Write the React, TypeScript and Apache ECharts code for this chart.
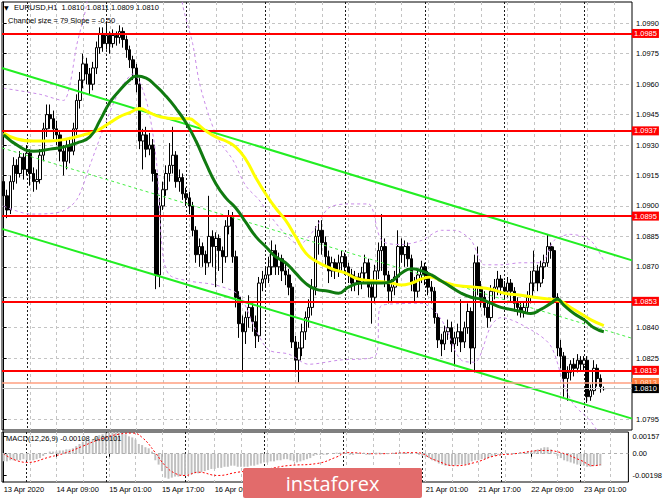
import React, { useEffect, useRef } from 'react';
import * as echarts from 'echarts';

// [open, close, low, high] hourly EURUSD bars, 13 Apr 17:00 -> 23 Apr 06:00
const candles: number[][] = [
  [1.0912,1.0905,1.0900,1.0918],[1.0905,1.0898,1.0894,1.0908],[1.0898,1.0912,1.0896,1.0915],[1.0912,1.0920,1.0908,1.0924],
  [1.0920,1.0916,1.0911,1.0923],[1.0916,1.0924,1.0914,1.0927],[1.0924,1.0918,1.0913,1.0926],[1.0918,1.0926,1.0915,1.0930],
  [1.0926,1.0916,1.0910,1.0928],[1.0916,1.0912,1.0907,1.0919],[1.0912,1.0913,1.0908,1.0918],[1.0913,1.0925,1.0911,1.0928],
  [1.0925,1.0938,1.0922,1.0941],[1.0938,1.0945,1.0934,1.0950],[1.0945,1.0943,1.0938,1.0950],[1.0943,1.0938,1.0933,1.0947],
  [1.0938,1.0935,1.0930,1.0942],[1.0935,1.0927,1.0922,1.0937],[1.0927,1.0922,1.0915,1.0930],[1.0922,1.0930,1.0918,1.0933],
  [1.0930,1.0927,1.0921,1.0934],[1.0927,1.0938,1.0925,1.0941],[1.0938,1.0952,1.0935,1.0955],[1.0952,1.0962,1.0948,1.0966],
  [1.0962,1.0970,1.0958,1.0975],[1.0970,1.0965,1.0960,1.0973],[1.0965,1.0960,1.0955,1.0968],[1.0960,1.0968,1.0957,1.0971],
  [1.0968,1.0978,1.0965,1.0981],[1.0978,1.0985,1.0975,1.0988],[1.0985,1.0980,1.0976,1.0988],[1.0980,1.0984,1.0977,1.0991],
  [1.0984,1.0980,1.0975,1.0986],[1.0980,1.0984,1.0978,1.0987],[1.0984,1.0983,1.0979,1.0986],[1.0983,1.0986,1.0980,1.0989],
  [1.0986,1.0982,1.0978,1.0988],[1.0982,1.0977,1.0973,1.0984],[1.0977,1.0972,1.0968,1.0979],[1.0972,1.0968,1.0962,1.0974],
  [1.0968,1.0960,1.0956,1.0970],[1.0960,1.0932,1.0928,1.0963],[1.0932,1.0935,1.0918,1.0938],[1.0935,1.0928,1.0924,1.0939],
  [1.0928,1.0930,1.0925,1.0936],[1.0930,1.0916,1.0912,1.0933],[1.0916,1.0866,1.0859,1.0918],[1.0866,1.0900,1.0860,1.0904],
  [1.0900,1.0908,1.0898,1.0912],[1.0908,1.0916,1.0905,1.0920],[1.0916,1.0920,1.0912,1.0931],[1.0920,1.0925,1.0916,1.0939],
  [1.0925,1.0912,1.0909,1.0927],[1.0912,1.0914,1.0907,1.0918],[1.0914,1.0906,1.0903,1.0916],[1.0906,1.0904,1.0900,1.0909],
  [1.0904,1.0900,1.0896,1.0907],[1.0900,1.0888,1.0885,1.0902],[1.0888,1.0876,1.0872,1.0890],[1.0876,1.0880,1.0870,1.0884],
  [1.0880,1.0876,1.0870,1.0882],[1.0876,1.0872,1.0866,1.0878],[1.0872,1.0885,1.0870,1.0905],[1.0885,1.0880,1.0870,1.0888],
  [1.0880,1.0884,1.0860,1.0887],[1.0884,1.0878,1.0868,1.0886],[1.0878,1.0875,1.0862,1.0880],[1.0875,1.0890,1.0872,1.0893],
  [1.0890,1.0895,1.0886,1.0898],[1.0895,1.0875,1.0872,1.0897],[1.0875,1.0855,1.0850,1.0878],[1.0855,1.0842,1.0835,1.0858],
  [1.0842,1.0838,1.0818,1.0846],[1.0838,1.0845,1.0832,1.0848],[1.0845,1.0850,1.0840,1.0856],[1.0850,1.0843,1.0838,1.0852],
  [1.0843,1.0836,1.0830,1.0846],[1.0836,1.0862,1.0833,1.0865],[1.0862,1.0864,1.0858,1.0868],[1.0864,1.0866,1.0860,1.0870],
  [1.0866,1.0870,1.0862,1.0875],[1.0870,1.0878,1.0866,1.0883],[1.0878,1.0870,1.0866,1.0881],[1.0870,1.0874,1.0866,1.0877],
  [1.0874,1.0868,1.0863,1.0876],[1.0868,1.0866,1.0861,1.0872],[1.0866,1.0860,1.0856,1.0869],[1.0860,1.0833,1.0830,1.0862],
  [1.0833,1.0824,1.0818,1.0836],[1.0824,1.0830,1.0813,1.0833],[1.0830,1.0838,1.0826,1.0842],[1.0838,1.0845,1.0834,1.0848],
  [1.0845,1.0850,1.0840,1.0854],[1.0850,1.0860,1.0846,1.0864],[1.0860,1.0885,1.0856,1.0890],[1.0885,1.0888,1.0876,1.0893],
  [1.0888,1.0882,1.0876,1.0893],[1.0882,1.0875,1.0870,1.0885],[1.0875,1.0868,1.0862,1.0878],[1.0868,1.0872,1.0865,1.0875],
  [1.0872,1.0868,1.0864,1.0874],[1.0868,1.0872,1.0865,1.0876],[1.0872,1.0875,1.0868,1.0878],[1.0875,1.0870,1.0866,1.0877],
  [1.0870,1.0866,1.0862,1.0872],[1.0866,1.0862,1.0858,1.0869],[1.0862,1.0865,1.0858,1.0868],[1.0865,1.0862,1.0856,1.0867],
  [1.0862,1.0867,1.0859,1.0870],[1.0867,1.0872,1.0864,1.0876],[1.0872,1.0860,1.0855,1.0874],[1.0860,1.0855,1.0842,1.0862],
  [1.0855,1.0868,1.0852,1.0871],[1.0868,1.0878,1.0864,1.0882],[1.0878,1.0880,1.0868,1.0896],[1.0880,1.0866,1.0860,1.0884],
  [1.0866,1.0858,1.0852,1.0868],[1.0858,1.0860,1.0853,1.0864],[1.0860,1.0865,1.0856,1.0868],[1.0865,1.0880,1.0862,1.0888],
  [1.0880,1.0876,1.0872,1.0884],[1.0876,1.0880,1.0870,1.0883],[1.0880,1.0874,1.0870,1.0882],[1.0874,1.0862,1.0858,1.0876],
  [1.0862,1.0858,1.0853,1.0865],[1.0858,1.0866,1.0855,1.0869],[1.0866,1.0870,1.0862,1.0873],[1.0870,1.0866,1.0861,1.0872],
  [1.0866,1.0860,1.0856,1.0868],[1.0860,1.0858,1.0852,1.0863],[1.0858,1.0845,1.0842,1.0860],[1.0845,1.0834,1.0830,1.0847],
  [1.0834,1.0832,1.0826,1.0837],[1.0832,1.0838,1.0829,1.0841],[1.0838,1.0840,1.0834,1.0844],[1.0840,1.0832,1.0828,1.0843],
  [1.0832,1.0835,1.0821,1.0838],[1.0835,1.0838,1.0831,1.0842],[1.0838,1.0833,1.0828,1.0854],[1.0833,1.0840,1.0830,1.0843],
  [1.0840,1.0848,1.0837,1.0852],[1.0848,1.0830,1.0822,1.0850],[1.0830,1.0872,1.0818,1.0876],[1.0872,1.0860,1.0856,1.0880],
  [1.0860,1.0855,1.0850,1.0863],[1.0855,1.0850,1.0846,1.0858],[1.0850,1.0845,1.0840,1.0853],[1.0845,1.0858,1.0843,1.0861],
  [1.0858,1.0860,1.0854,1.0864],[1.0860,1.0864,1.0856,1.0868],[1.0864,1.0860,1.0856,1.0866],[1.0860,1.0858,1.0854,1.0863],
  [1.0858,1.0862,1.0855,1.0865],[1.0862,1.0858,1.0853,1.0864],[1.0858,1.0852,1.0848,1.0860],[1.0852,1.0850,1.0846,1.0855],
  [1.0850,1.0848,1.0845,1.0853],[1.0848,1.0850,1.0845,1.0853],[1.0850,1.0855,1.0847,1.0858],[1.0855,1.0862,1.0852,1.0868],
  [1.0862,1.0868,1.0858,1.0878],[1.0868,1.0862,1.0858,1.0871],[1.0862,1.0870,1.0860,1.0873],[1.0870,1.0872,1.0864,1.0876],
  [1.0872,1.0880,1.0870,1.0886],[1.0880,1.0878,1.0874,1.0882],[1.0878,1.0855,1.0852,1.0880],[1.0855,1.0830,1.0826,1.0857],
  [1.0830,1.0826,1.0820,1.0834],[1.0826,1.0815,1.0806,1.0828],[1.0815,1.0818,1.0804,1.0821],[1.0818,1.0822,1.0814,1.0824],
  [1.0822,1.0820,1.0816,1.0825],[1.0820,1.0824,1.0818,1.0827],[1.0824,1.0822,1.0819,1.0826],[1.0822,1.0824,1.0819,1.0826],
  [1.0824,1.0806,1.0803,1.0826],[1.0806,1.0809,1.0804,1.0812],[1.0809,1.0820,1.0807,1.0824],[1.0820,1.0815,1.0811,1.0822],
  [1.0815,1.0811,1.0808,1.0817],[1.0810,1.0810,1.0809,1.0811],
];

const timeLabels = ['13 Apr 2020', '14 Apr 09:00', '15 Apr 01:00', '15 Apr 17:00', '16 Apr 09:00', '17 Apr 01:00',
  '17 Apr 17:00', '20 Apr 09:00', '21 Apr 01:00', '21 Apr 17:00', '22 Apr 09:00', '23 Apr 01:00'];

const priceTicks = [1.0795, 1.0810, 1.0825, 1.0840, 1.0855, 1.0870, 1.0885, 1.0900, 1.0915, 1.0930, 1.0945, 1.0960, 1.0975, 1.0990];
const macdTicks = [0.00157, 0, -0.00198];

const redLevels = [1.0985, 1.0937, 1.0895, 1.0853, 1.0819];
const orangeLevel = 1.0813;
const bidLevel = 1.0810;

const lightGridBars = [0, 8, 16, 24, 32, 40, 48, 56, 64, 72, 80, 88, 96, 104, 112, 120, 128, 136, 144, 152, 160, 168, 176, 184];
const daySeparatorBars = [7, 31, 55, 79, 103, 127, 151, 175];

// regression channel end points [barPosition, price]
const channelUpper = [[-0.5, 1.0968], [189.5, 1.08732]];
const channelMiddle = [[-0.5, 1.09286], [189.5, 1.08348]];
const channelLower = [[-0.5, 1.08887], [189.5, 1.07952]];

const greenMa = [[0,1.0935],[5,1.0929],[9,1.0927],[14,1.0928],[18,1.0929],[22,1.0931],[26,1.0934],[29,1.0942],[32,1.0951],
  [35,1.0957],[38,1.0962],[40,1.0964],[43,1.0963],[46,1.0959],[49,1.0954],[52,1.0948],[55,1.0941],[58,1.0932],[61,1.0921],
  [64,1.0911],[67,1.0904],[70,1.0899],[73,1.0892],[76,1.0885],[79,1.0880],[82,1.0875],[85,1.0872],[88,1.0867],[91,1.0862],
  [94,1.0859],[98,1.0858],[101,1.0857],[104,1.0860],[108,1.0862],[114,1.0862],[117,1.0863],[120,1.0867],[123,1.0869],
  [126,1.0868],[129,1.0866],[132,1.0863],[135,1.0860],[138,1.0857],[141,1.0855],[144,1.0854],[147,1.0852],[150,1.0850],
  [153,1.0849],[156,1.0848],[159,1.0847],[162,1.0849],[165,1.0852],[167,1.0854],[169,1.0851],[172,1.0847],[175,1.0844],
  [178,1.0840],[181,1.0838]];

const yellowMa = [[0,1.0936],[4,1.0933],[9,1.0932],[14,1.0932],[19,1.0933],[24,1.0935],[28,1.0937],[32,1.0941],[35,1.0944],
  [38,1.0946],[41,1.0948],[44,1.0946],[47,1.0944],[52,1.0943],[56,1.0943],[58,1.0941],[61,1.0937],[64,1.0934],[67,1.0932],
  [70,1.0929],[73,1.0923],[76,1.0914],[79,1.0906],[82,1.0899],[85,1.0893],[88,1.0885],[91,1.0877],[94,1.0873],[99,1.0869],
  [103,1.0867],[107,1.0864],[112,1.0863],[117,1.0862],[120,1.0861],[123,1.0862],[126,1.0864],[129,1.0865],[132,1.0863],
  [136,1.0861],[142,1.0860],[147,1.0859],[151,1.0857],[156,1.0856],[160,1.0855],[165,1.0854],[168,1.0853],[171,1.0850],
  [174,1.0847],[177,1.0844],[181,1.0841]];

const upperBand = [[0,1.0958],[11,1.0955],[18,1.0952],[20,1.0960],[22,1.0979],[25,1.0999],[27,1.1025],[52,1.1025],[54,1.0999],
  [57,1.0980],[59,1.0961],[62,1.0944],[65,1.0932],[69,1.0923],[73,1.0910],[77,1.0903],[80,1.0896],[85,1.0886],[89,1.0881],
  [94,1.0889],[98,1.0899],[104,1.0901],[110,1.0901],[114,1.0883],[120,1.0881],[126,1.0883],[132,1.0888],[136,1.0888],
  [141,1.0883],[145,1.0871],[150,1.0871],[156,1.0872],[162,1.0872],[166,1.0883],[171,1.0886],[177,1.0883],[181,1.0873]];

const lowerBand = [[0,1.0900],[8,1.0896],[17,1.0897],[22,1.0903],[26,1.0920],[31,1.0942],[35,1.0957],[39,1.0965],[43,1.0952],
  [46,1.0923],[48,1.0876],[50,1.0866],[56,1.0863],[64,1.0861],[71,1.0856],[76,1.0839],[80,1.0829],[86,1.0827],[92,1.0822],
  [101,1.0824],[112,1.0826],[114,1.0851],[126,1.0852],[132,1.0844],[138,1.0824],[142,1.0823],[147,1.0841],[150,1.0845],
  [159,1.0839],[165,1.0831],[169,1.0812],[172,1.0802],[177,1.0794],[181,1.0784]];

const macdHist = [
  -0.0007,-0.0007,-0.0006,-0.0006, -0.0006,-0.0006,-0.0005,-0.0006, -0.0006,-0.0006,-0.0005,-0.0004,
  -0.0002,0.0000,0.0002,0.0002, 0.0002,0.0003,0.0003,0.0004, 0.0004,0.0005,0.0007,0.0009,
  0.0011,0.0012,0.0012,0.0013, 0.0015,0.0017,0.0018,0.0019, 0.0019,0.0020,0.0020,0.0020,
  0.0019,0.0018,0.0016,0.0015, 0.0013,0.0009,0.0008,0.0006, 0.0005,0.0002,-0.0006,-0.0010,
  -0.0016,-0.0022,-0.0023,-0.0022, -0.0021,-0.0021,-0.0020,-0.0020, -0.0019,-0.0019,-0.0018,-0.0018,
  -0.0017,-0.0016,-0.0015,-0.0014, -0.0014,-0.0013,-0.0013,-0.0012, -0.0012,-0.0011,-0.0011,-0.0012,
  -0.0012,-0.0012,-0.0012,-0.0011, -0.0011,-0.0010,-0.0009,-0.0008, -0.0008,-0.0007,-0.0007,-0.0006,
  -0.0006,-0.0005,-0.0005,-0.0006, -0.0007,-0.0008,-0.0007,-0.0006, -0.0005,-0.0004,-0.0002,-0.0001,
  -0.0001,-0.0001,-0.0001,0.0000, 0.0000,0.0001,0.0001,0.0001, 0.0000,-0.0001,-0.0001,0.0000,
  0.0000,0.0000,-0.0001,-0.0001, 0.0000,0.0001,0.0001,0.0000, 0.0000,0.0000,0.0000,0.0001,
  0.0001,0.0001,0.0001,0.0000, 0.0000,0.0000,-0.0001,-0.0002, -0.0003,-0.0004,-0.0006,-0.0007,
  -0.0009,-0.0010,-0.0011,-0.0011, -0.0011,-0.0011,-0.0010,-0.0010, -0.0010,-0.0010,-0.0007,-0.0006,
  -0.0006,-0.0005,-0.0005,-0.0004, -0.0003,-0.0002,-0.0001,-0.0001, 0.0000,0.0000,0.0000,0.0000,
  0.0000,0.0001,0.0001,0.0002, 0.0002,0.0003,0.0004,0.0005, 0.0006,0.0006,0.0004,0.0001,
  -0.0002,-0.0004,-0.0006,-0.0007, -0.0008,-0.0009,-0.0010,-0.0010, -0.0011,-0.0012,-0.0012,-0.0011,
  -0.0011,-0.0011,
];

const macdSignal = [[0,0.0000],[7,-0.0008],[14,-0.0003],[19,0.0001],[24,0.0007],[29,0.0013],[35,0.0018],[39,0.0019],
  [42,0.0015],[46,0.0001],[49,-0.0011],[52,-0.0018],[55,-0.0020],[59,-0.0017],[65,-0.0020],[71,-0.0017],[80,-0.0014],
  [86,-0.0011],[95,-0.0009],[101,-0.0003],[104,0.0001],[113,0.0000],[125,0.0001],[131,-0.0006],[137,-0.0011],
  [143,-0.0008],[149,-0.0002],[155,0.0000],[164,0.0003],[169,0.0001],[175,-0.0006],[179,-0.0011],[181,-0.0010]];

const headerText = 'EURUSD,H1  1.0810 1.0811 1.0809 1.0810';
const channelText = 'Channel size = 79 Slope = -0.50';
const macdText = 'MACD(12,26,9) -0.00108 -0.00101';
const watermarkText = 'instaforex';

const TOTAL_SLOTS = 190;
const PRICE_MIN = 1.07896;
const PRICE_MAX = 1.10005;
const MACD_MIN = -0.0026;
const MACD_MAX = 0.0020;
const FONT = "'Liberation Sans', Arial, sans-serif";
const FS = 7.5;
const PLOT_LEFT = 2;
const PLOT_WIDTH = 630;
const WM = { x: 243, y: 468, w: 179, h: 30 };

function buildOption(): any {
  const cats = Array.from({ length: TOTAL_SLOTS }, (_, i) => String(i));
  const levelValues = [...redLevels, orangeLevel, bidLevel];
  const lightSplit = { show: true, lineStyle: { color: '#c4c4c4', type: [3, 3], width: 1 } };
  const darkSplit = { show: true, lineStyle: { color: '#1a1a1a', type: [2, 2], width: 1 } };
  const hiddenParts = { axisLine: { show: false }, axisTick: { show: false }, axisLabel: { show: false } };
  const isLabelBar = (i: number) => i % 16 === 0 && i / 16 < timeLabels.length;
  // a time label that lies wholly under the watermark box is not visible in the picture
  const underWatermark = (i: number) => {
    const x = PLOT_LEFT + ((i + 0.5) * PLOT_WIDTH) / TOTAL_SLOTS;
    return x >= WM.x && x + 46 <= WM.x + WM.w;
  };

  const levelLine = (v: number, color: string, width: number, bg: string, fg: string) => ({
    yAxis: v,
    lineStyle: { color, width, type: 'solid' },
    label: { show: true, position: 'end', formatter: v.toFixed(4), backgroundColor: bg, color: fg,
      fontSize: FS, fontFamily: FONT, padding: [1, 2, 0, 2], distance: 0 },
  });

  return {
    animation: false,
    backgroundColor: '#ffffff',
    grid: [
      { left: PLOT_LEFT, top: 2, width: PLOT_WIDTH, height: 428, show: true, borderColor: '#000', borderWidth: 1, backgroundColor: '#fff' },
      { left: PLOT_LEFT, top: 432, width: PLOT_WIDTH, height: 50, show: true, borderColor: '#000', borderWidth: 1, backgroundColor: '#fff' },
    ],
    xAxis: [
      { type: 'category', gridIndex: 0, data: cats, boundaryGap: true, show: false },
      { type: 'value', gridIndex: 0, min: -0.5, max: 189.5, ...hiddenParts,
        axisTick: { show: false, customValues: lightGridBars }, splitLine: lightSplit },
      { type: 'value', gridIndex: 0, min: -0.5, max: 189.5, ...hiddenParts,
        axisTick: { show: false, customValues: daySeparatorBars }, splitLine: darkSplit },
      { type: 'category', gridIndex: 1, data: cats, boundaryGap: true,
        axisLine: { show: false },
        axisTick: { show: true, length: 3, alignWithLabel: true, lineStyle: { color: '#000' },
          interval: (i: number) => isLabelBar(i) && !underWatermark(i) },
        axisLabel: { show: true, align: 'left', margin: 3, fontSize: FS, fontFamily: FONT, color: '#000',
          interval: (i: number) => isLabelBar(i) && !underWatermark(i),
          formatter: (_v: string, i: number) => timeLabels[i / 16] ?? '' },
        splitLine: { show: false } },
      { type: 'value', gridIndex: 1, min: -0.5, max: 189.5, ...hiddenParts,
        axisTick: { show: false, customValues: lightGridBars }, splitLine: lightSplit },
      { type: 'value', gridIndex: 1, min: -0.5, max: 189.5, ...hiddenParts,
        axisTick: { show: false, customValues: daySeparatorBars }, splitLine: darkSplit },
    ],
    yAxis: [
      { type: 'value', gridIndex: 0, position: 'right', min: PRICE_MIN, max: PRICE_MAX,
        axisLine: { show: true, lineStyle: { color: '#000' } },
        axisTick: { show: true, length: 3, customValues: priceTicks, lineStyle: { color: '#000' } },
        axisLabel: { show: true, customValues: priceTicks, margin: 4, fontSize: FS, fontFamily: FONT, color: '#000',
          formatter: (v: number) => (levelValues.some(l => Math.abs(l - v) < 0.00035) ? '' : v.toFixed(4)) },
        splitLine: lightSplit },
      { type: 'value', gridIndex: 1, position: 'right', min: MACD_MIN, max: MACD_MAX,
        axisLine: { show: true, lineStyle: { color: '#000' } },
        axisTick: { show: true, length: 3, customValues: macdTicks, lineStyle: { color: '#000' } },
        axisLabel: { show: true, customValues: macdTicks, margin: 4, fontSize: FS, fontFamily: FONT, color: '#000',
          formatter: (v: number) => (v === 0 ? '0.00' : v.toFixed(5)) },
        splitLine: { show: false } },
    ],
    series: [
      {
        type: 'candlestick', name: 'EURUSD', xAxisIndex: 0, yAxisIndex: 0, z: 2, barWidth: 3,
        data: candles,
        itemStyle: { color: '#ffffff', color0: '#000000', borderColor: '#000000', borderColor0: '#000000', borderWidth: 1 },
        markLine: {
          silent: true, symbol: ['none', 'none'], animation: false, precision: 4,
          data: [
            ...redLevels.map(v => levelLine(v, '#ff0000', 2, '#ff0000', '#ffffff')),
            levelLine(orangeLevel, '#ff9f80', 1.5, '#ff7a3c', '#ffe0cc'),
            levelLine(bidLevel, '#c0c0c0', 1, '#000000', '#ffffff'),
          ],
        },
      },
      { type: 'line', name: 'upperBand', xAxisIndex: 1, yAxisIndex: 0, z: 3, data: upperBand, smooth: 0.3,
        symbol: 'none', clip: true, lineStyle: { color: '#c98be8', width: 1, type: [3, 3] } },
      { type: 'line', name: 'lowerBand', xAxisIndex: 1, yAxisIndex: 0, z: 3, data: lowerBand, smooth: 0.3,
        symbol: 'none', clip: true, lineStyle: { color: '#c98be8', width: 1, type: [3, 3] } },
      { type: 'line', name: 'channelUpper', xAxisIndex: 1, yAxisIndex: 0, z: 4, data: channelUpper,
        symbol: 'none', lineStyle: { color: '#22ee22', width: 2 } },
      { type: 'line', name: 'channelMiddle', xAxisIndex: 1, yAxisIndex: 0, z: 4, data: channelMiddle,
        symbol: 'none', lineStyle: { color: '#44ee44', width: 1, type: [3, 3] } },
      { type: 'line', name: 'channelLower', xAxisIndex: 1, yAxisIndex: 0, z: 4, data: channelLower,
        symbol: 'none', lineStyle: { color: '#22ee22', width: 2 } },
      { type: 'line', name: 'yellowMa', xAxisIndex: 1, yAxisIndex: 0, z: 5, data: yellowMa, smooth: true,
        symbol: 'none', lineStyle: { color: '#ffff00', width: 3 } },
      { type: 'line', name: 'greenMa', xAxisIndex: 1, yAxisIndex: 0, z: 6, data: greenMa, smooth: true,
        symbol: 'none', lineStyle: { color: '#107a10', width: 3 } },
      {
        type: 'bar', name: 'MACD', xAxisIndex: 3, yAxisIndex: 1, z: 2, data: macdHist, barWidth: 2,
        itemStyle: { color: '#c0c0c0' },
        markLine: { silent: true, symbol: ['none', 'none'], animation: false, label: { show: false },
          data: [{ yAxis: 0 }], lineStyle: { color: '#b0b0b0', type: [3, 3], width: 1 } },
      },
      { type: 'line', name: 'Signal', xAxisIndex: 4, yAxisIndex: 1, z: 3, data: macdSignal, smooth: true,
        symbol: 'none', lineStyle: { color: '#ff0000', width: 1, type: [2, 2] } },
    ],
    graphic: [
      { type: 'text', x: 4, y: 4, z: 100, style: { text: '▼', fontSize: 6, fontFamily: 'DejaVu Sans', fill: '#000' } },
      { type: 'text', x: 14, y: 3, z: 100, style: { text: headerText, fontSize: FS, fontFamily: FONT, fill: '#000' } },
      { type: 'text', x: 8, y: 16, z: 100, style: { text: channelText, fontSize: FS, fontFamily: FONT, fill: '#000' } },
      { type: 'text', x: 6, y: 434, z: 100, style: { text: macdText, fontSize: FS, fontFamily: FONT, fill: '#000' } },
      { type: 'rect', z: 100, shape: { x: WM.x, y: WM.y, width: WM.w, height: WM.h, r: 2 }, style: { fill: '#e26b6b' } },
      { type: 'text', z: 101, x: WM.x + WM.w / 2, y: WM.y + WM.h / 2, style: { text: watermarkText, fontSize: 20,
        fontFamily: "'Open Sans', sans-serif", fill: '#ffffff', align: 'center', verticalAlign: 'middle' } },
    ],
  };
}

export default function App() {
  const ref = useRef<HTMLDivElement>(null);
  useEffect(() => {
    if (!ref.current) return;
    const chart = echarts.init(ref.current, null, { renderer: 'svg' });
    chart.setOption(buildOption());
    return () => chart.dispose();
  }, []);
  return <div ref={ref} style={{ position: 'fixed', left: 0, top: 0, width: 665, height: 499, background: '#fff' }} />;
}
